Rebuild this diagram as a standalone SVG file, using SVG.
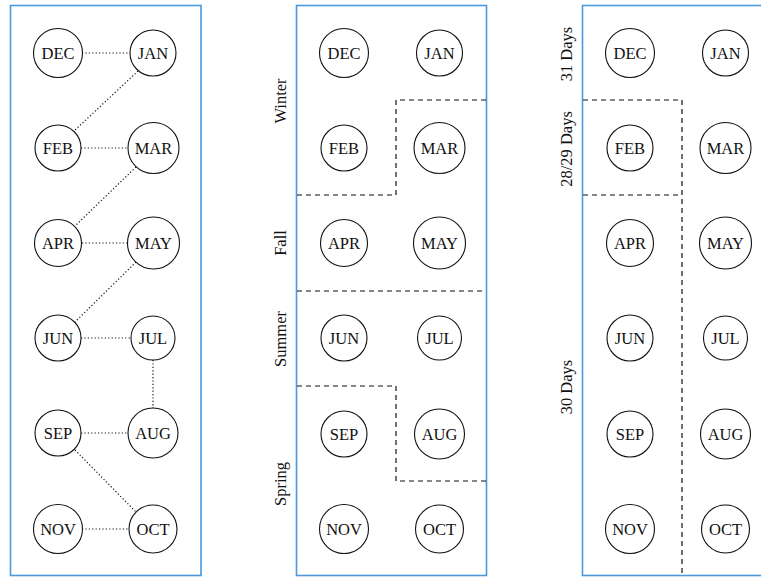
<svg xmlns="http://www.w3.org/2000/svg" width="761" height="577" viewBox="0 0 761 577">
  <style>
    .panel { fill: none; stroke: #4a98de; stroke-width: 1.6; }
    .node circle { fill: #fff; stroke: #111; stroke-width: 1.1; }
    .node text, .label { font-family: "Liberation Serif", "Times New Roman", serif; font-size: 16.5px; fill: #111; }
    .node text { text-anchor: middle; }
    .label { text-anchor: middle; }
    .edge { stroke: #111; stroke-width: 1.2; stroke-dasharray: 1.2 2.2; fill: none; }
    .split { stroke: #111; stroke-width: 1.2; stroke-dasharray: 5 4; fill: none; }
  </style>

  <!-- panel frames -->
  <rect class="panel" x="10.5" y="5.5" width="190.5" height="570"/>
  <rect class="panel" x="296.5" y="5.5" width="190" height="570"/>
  <rect class="panel" x="582.5" y="5.5" width="190" height="570"/>

  <!-- panel 1: month sequence links -->
  <g id="connectors">
    <line class="edge" x1="82" y1="53" x2="130" y2="53"/>
    <line class="edge" x1="138" y1="71" x2="74" y2="131"/>
    <line class="edge" x1="81" y1="148" x2="128" y2="148"/>
    <line class="edge" x1="136" y1="167" x2="75" y2="226"/>
    <line class="edge" x1="82" y1="243" x2="127" y2="243"/>
    <line class="edge" x1="136" y1="262" x2="75" y2="322"/>
    <line class="edge" x1="81" y1="338" x2="131" y2="338"/>
    <line class="edge" x1="153" y1="360" x2="153" y2="409"/>
    <line class="edge" x1="81" y1="433" x2="128" y2="433"/>
    <line class="edge" x1="75" y1="450" x2="136" y2="512"/>
    <line class="edge" x1="82" y1="529" x2="129" y2="529"/>
  </g>

  <!-- panel 1 nodes -->
  <g id="l-dec" class="node"><circle cx="58" cy="53" r="24.5"/><text x="58" y="58.5">DEC</text></g>
  <g id="l-jan" class="node"><circle cx="153" cy="53" r="23"/><text x="153" y="58.5">JAN</text></g>
  <g id="l-feb" class="node"><circle cx="58" cy="148" r="23"/><text x="58" y="153.5">FEB</text></g>
  <g id="l-mar" class="node"><circle cx="153.5" cy="148" r="25.5"/><text x="153.5" y="153.5">MAR</text></g>
  <g id="l-apr" class="node"><circle cx="58" cy="243" r="23.5"/><text x="58" y="248.5">APR</text></g>
  <g id="l-may" class="node"><circle cx="153.5" cy="243" r="26"/><text x="153.5" y="248.5">MAY</text></g>
  <g id="l-jun" class="node"><circle cx="58" cy="338" r="23"/><text x="58" y="343.5">JUN</text></g>
  <g id="l-jul" class="node"><circle cx="153" cy="338" r="22"/><text x="153" y="343.5">JUL</text></g>
  <g id="l-sep" class="node"><circle cx="58" cy="433" r="23"/><text x="58" y="438.5">SEP</text></g>
  <g id="l-aug" class="node"><circle cx="153" cy="433" r="25"/><text x="153" y="438.5">AUG</text></g>
  <g id="l-nov" class="node"><circle cx="58" cy="529" r="24.5"/><text x="58" y="534.5">NOV</text></g>
  <g id="l-oct" class="node"><circle cx="153" cy="529" r="24"/><text x="153" y="534.5">OCT</text></g>

  <!-- panel 2: seasons -->
  <g id="seasons">
    <path class="split" d="M297,195 H396 V100 H486"/>
    <path class="split" d="M297,291 H486"/>
    <path class="split" d="M297,386 H396 V481 H486"/>
    <text class="label" x="286" y="101" transform="rotate(-90 286 101)">Winter</text>
    <text class="label" x="286" y="243" transform="rotate(-90 286 243)">Fall</text>
    <text class="label" x="286" y="339" transform="rotate(-90 286 339)">Summer</text>
    <text class="label" x="286" y="484" transform="rotate(-90 286 484)">Spring</text>
  </g>

  <g id="m-dec" class="node"><circle cx="344" cy="53" r="24.5"/><text x="344" y="58.5">DEC</text></g>
  <g id="m-jan" class="node"><circle cx="439.5" cy="53" r="23"/><text x="439.5" y="58.5">JAN</text></g>
  <g id="m-feb" class="node"><circle cx="344" cy="148" r="23"/><text x="344" y="153.5">FEB</text></g>
  <g id="m-mar" class="node"><circle cx="439.5" cy="148" r="25.5"/><text x="439.5" y="153.5">MAR</text></g>
  <g id="m-apr" class="node"><circle cx="344" cy="243" r="23.5"/><text x="344" y="248.5">APR</text></g>
  <g id="m-may" class="node"><circle cx="439.5" cy="243" r="26"/><text x="439.5" y="248.5">MAY</text></g>
  <g id="m-jun" class="node"><circle cx="344" cy="338" r="23"/><text x="344" y="343.5">JUN</text></g>
  <g id="m-jul" class="node"><circle cx="439.5" cy="338" r="22"/><text x="439.5" y="343.5">JUL</text></g>
  <g id="m-sep" class="node"><circle cx="344" cy="434" r="23"/><text x="344" y="439.5">SEP</text></g>
  <g id="m-aug" class="node"><circle cx="439.5" cy="434" r="25"/><text x="439.5" y="439.5">AUG</text></g>
  <g id="m-nov" class="node"><circle cx="344" cy="529" r="24.5"/><text x="344" y="534.5">NOV</text></g>
  <g id="m-oct" class="node"><circle cx="439.5" cy="529" r="24"/><text x="439.5" y="534.5">OCT</text></g>

  <!-- panel 3: month lengths -->
  <g id="lengths">
    <path class="split" d="M583,100 H682 V576"/>
    <path class="split" d="M583,195 H678"/>
    <text class="label" x="572" y="54" transform="rotate(-90 572 54)">31 Days</text>
    <text class="label" x="572" y="149" transform="rotate(-90 572 149)">28/29 Days</text>
    <text class="label" x="572" y="387" transform="rotate(-90 572 387)">30 Days</text>
  </g>

  <g id="r-dec" class="node"><circle cx="630" cy="53" r="24.5"/><text x="630" y="58.5">DEC</text></g>
  <g id="r-jan" class="node"><circle cx="725.5" cy="53" r="23"/><text x="725.5" y="58.5">JAN</text></g>
  <g id="r-feb" class="node"><circle cx="630" cy="148" r="23"/><text x="630" y="153.5">FEB</text></g>
  <g id="r-mar" class="node"><circle cx="725.5" cy="148" r="25.5"/><text x="725.5" y="153.5">MAR</text></g>
  <g id="r-apr" class="node"><circle cx="630" cy="243" r="23.5"/><text x="630" y="248.5">APR</text></g>
  <g id="r-may" class="node"><circle cx="725.5" cy="243" r="26"/><text x="725.5" y="248.5">MAY</text></g>
  <g id="r-jun" class="node"><circle cx="630" cy="338" r="23"/><text x="630" y="343.5">JUN</text></g>
  <g id="r-jul" class="node"><circle cx="725.5" cy="338" r="22"/><text x="725.5" y="343.5">JUL</text></g>
  <g id="r-sep" class="node"><circle cx="630" cy="434" r="23"/><text x="630" y="439.5">SEP</text></g>
  <g id="r-aug" class="node"><circle cx="725.5" cy="434" r="25"/><text x="725.5" y="439.5">AUG</text></g>
  <g id="r-nov" class="node"><circle cx="630" cy="529" r="24.5"/><text x="630" y="534.5">NOV</text></g>
  <g id="r-oct" class="node"><circle cx="725.5" cy="529" r="24"/><text x="725.5" y="534.5">OCT</text></g>
</svg>
